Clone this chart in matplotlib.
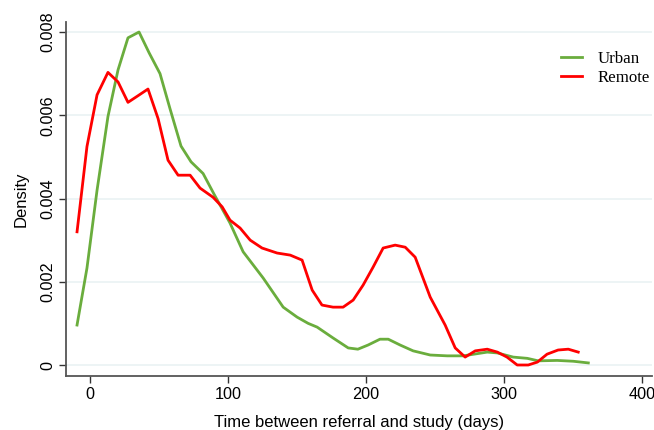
import matplotlib
matplotlib.use('Agg')
import matplotlib.pyplot as plt
import numpy as np

# density curves (days, density)
urban_days = [-9.4, -2.2, 5.1, 13.0, 20.3, 27.5, 35.5, 42.8, 50.7, 58.0, 65.9, 73.2,
              81.9, 89.9, 101.4, 110.9, 125.4, 139.9, 150.0, 158.0, 164.5, 176.0,
              187.0, 194.0, 201.4, 210.0, 216.0, 224.6, 234.0, 246.4, 258.7, 270.3,
              287.7, 295.0, 306.5, 316.7, 324.6, 338.4, 350.0, 360.9]
urban_dens = [0.96, 2.33, 4.2, 5.97, 7.09, 7.86, 8.0, 7.5, 7.0, 6.15, 5.26, 4.88,
              4.6, 4.1, 3.41, 2.72, 2.09, 1.39, 1.15, 1.0, 0.91, 0.65,
              0.41, 0.38, 0.48, 0.62, 0.62, 0.48, 0.34, 0.24, 0.22, 0.22,
              0.31, 0.29, 0.19, 0.16, 0.10, 0.11, 0.09, 0.05]

remote_days = [-9.4, -2.2, 5.1, 13.0, 20.3, 27.5, 34.8, 42.0, 49.3, 56.5, 63.8, 72.5,
               79.7, 89.1, 95.7, 101.4, 108.7, 116.0, 124.6, 135.5, 145.0, 153.6,
               160.9, 168.0, 176.0, 183.3, 190.6, 197.8, 205.0, 212.3, 221.0, 228.3,
               235.5, 246.4, 257.2, 264.5, 271.7, 279.0, 287.7, 295.0, 302.0, 309.4,
               317.4, 324.0, 331.0, 339.0, 346.4, 353.6]
remote_dens = [3.2, 5.25, 6.49, 7.03, 6.8, 6.31, 6.47, 6.63, 5.92, 4.92, 4.56, 4.56,
               4.25, 4.03, 3.8, 3.48, 3.29, 3.0, 2.81, 2.69, 2.64, 2.52,
               1.8, 1.44, 1.39, 1.39, 1.56, 1.92, 2.35, 2.81, 2.88, 2.83,
               2.59, 1.63, 0.96, 0.41, 0.19, 0.34, 0.38, 0.31, 0.19, 0.0,
               0.0, 0.07, 0.26, 0.36, 0.38, 0.31]

xticks = [0, 100, 200, 300, 400]
yticks = [0, 0.002, 0.004, 0.006, 0.008]
ylabels = ['0', '0.002', '0.004', '0.006', '0.008']

plt.rc('font', family=['Liberation Sans', 'DejaVu Sans'])

fig = plt.figure(figsize=(6.54, 4.30), dpi=100)
ax = fig.add_axes([0.1009, 0.1256, 0.896, 0.8232])

green = '#6AAD3D'
red = '#FF0000'
ax.plot(urban_days, np.array(urban_dens) * 0.001, color=green, lw=2.0, label='Urban')
ax.plot(remote_days, np.array(remote_dens) * 0.001, color=red, lw=2.0, label='Remote')

ax.set_xlim(-17.4, 407)
ax.set_ylim(-0.000264, 0.00824)
ax.set_xticks(xticks)
ax.set_yticks(yticks)
ax.set_yticklabels(ylabels, rotation=90, va='center')
ax.tick_params(axis='both', labelsize=11.7, length=5, width=1, color='#333333', pad=3)
for s in ['top', 'right']:
  ax.spines[s].set_visible(False)
for s in ['left', 'bottom']:
  ax.spines[s].set_color('#555555')
  ax.spines[s].set_linewidth(1.3)
ax.grid(axis='y', color='#EAF2F3', lw=1.2)
ax.set_axisbelow(True)

ax.set_xlabel('Time between referral and study (days)', fontsize=12, labelpad=9)
ax.set_ylabel('Density', fontsize=12, labelpad=8)

leg = ax.legend(loc='upper left', bbox_to_anchor=(561 / 654, 1 - 51 / 430),
                bbox_transform=fig.transFigure, frameon=False,
                borderpad=0, borderaxespad=0,
                prop={'family': 'Liberation Serif', 'size': 12.2},
                handlelength=1.25, handletextpad=0.9, labelspacing=0.2)

fig.savefig('out.png', dpi=100)
